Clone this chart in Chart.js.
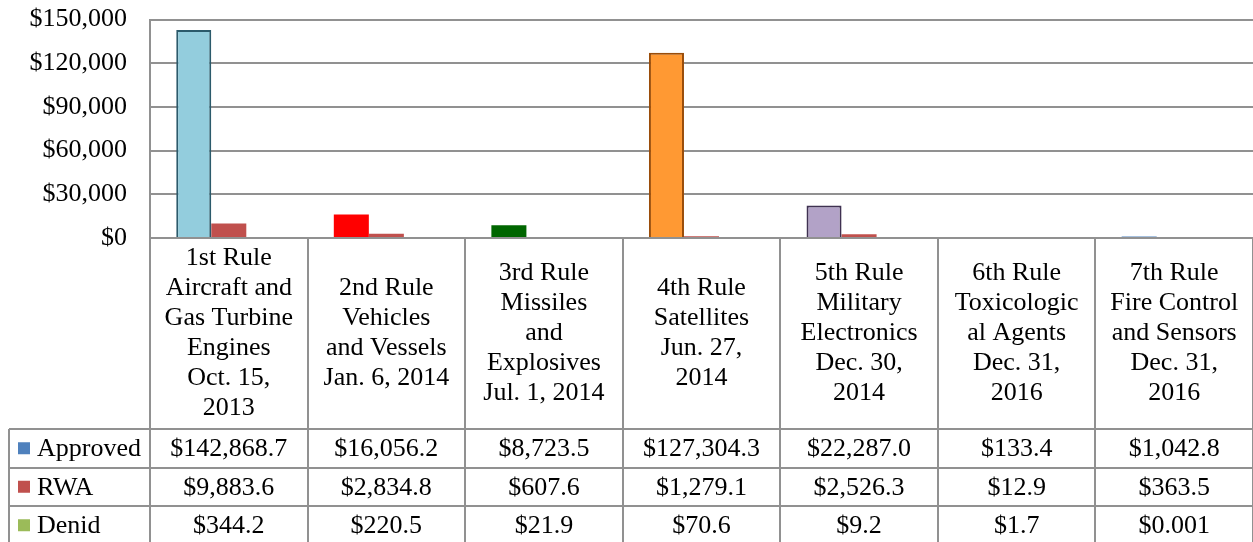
<!DOCTYPE html>
<html>
<head>
<meta charset="utf-8">
<script src="https://cdn.jsdelivr.net/npm/chart.js@4.4.1/dist/chart.umd.min.js"></script>
<style>
  body { margin: 0; background: #fff; }
  canvas { display: block; }
  .warm { font-family: 'Liberation Serif'; position: absolute; left: -999px; }
</style>
</head>
<body>
<span class="warm">$0123456789 Approved</span>
<canvas id="rulesChart" width="1253" height="542"></canvas>
<script>
// category header lines, one array per rule
const categories = [
  ["1st Rule", "Aircraft and", "Gas Turbine", "Engines", "Oct. 15,", "2013"],
  ["2nd Rule", "Vehicles", "and Vessels", "Jan. 6, 2014"],
  ["3rd Rule", "Missiles", "and", "Explosives", "Jul. 1, 2014"],
  ["4th Rule", "Satellites", "Jun. 27,", "2014"],
  ["5th Rule", "Military", "Electronics", "Dec. 30,", "2014"],
  ["6th Rule", "Toxicologic", "al Agents", "Dec. 31,", "2016"],
  ["7th Rule", "Fire Control", "and Sensors", "Dec. 31,", "2016"]
];
const approved = [142868.7, 16056.2, 8723.5, 127304.3, 22287.0, 133.4, 1042.8];
const rwa = [9883.6, 2834.8, 607.6, 1279.1, 2526.3, 12.9, 363.5];
const denid = [344.2, 220.5, 21.9, 70.6, 9.2, 1.7, 0.001];
const yTicks = [0, 30000, 60000, 90000, 120000, 150000];

const FONT = "'Liberation Serif', 'Times New Roman', serif";
const FONT_SIZE = 26;
const GRID = "#919191";

const money = v => "$" + v.toLocaleString("en-US", { minimumFractionDigits: 1, maximumFractionDigits: 3 });

const approvedFill = ["#93CDDD", "#FF0000", "#006600", "#FF9933", "#B2A2C7", "#4F81BD", "#4F81BD"];
const approvedEdge = ["#2B5A6B", "#FF0000", "#006600", "#9A4D0A", "#3F3151", "#4F81BD", "#4F81BD"];
const approvedEdgeW = [2, 0, 0, 2, 2, 0, 0];

const rows = [
  { label: "Approved", key: "#4F81BD", values: approved },
  { label: "RWA", key: "#C0504D", values: rwa },
  { label: "Denid", key: "#9BBB59", values: denid }
];

// draws the data table under the plot, column edges taken from the x scale
const dataTable = {
  id: "dataTable",
  afterDraw(chart) {
    const ctx = chart.ctx;
    const area = chart.chartArea;
    const x = chart.scales.x;
    const colW = x.getPixelForValue(1) - x.getPixelForValue(0);
    const edges = [];
    for (let i = 0; i < categories.length; i++) edges.push(x.getPixelForValue(i) - colW / 2);
    edges.push(x.getPixelForValue(categories.length - 1) + colW / 2);

    const headerTop = area.bottom;
    const headerBottom = headerTop + 191;
    const rowH = 38.5;
    const tableLeft = 9;
    const tableBottom = chart.height + 5;

    ctx.save();
    ctx.strokeStyle = GRID;
    ctx.lineWidth = 2;
    ctx.beginPath();
    ctx.moveTo(edges[0], headerTop);
    ctx.lineTo(chart.width, headerTop);
    for (let r = 0; r <= rows.length; r++) {
      const y = Math.round(headerBottom + r * rowH);
      ctx.moveTo(tableLeft, y);
      ctx.lineTo(chart.width, y);
    }
    edges.forEach(ex => {
      ctx.moveTo(Math.round(ex), headerTop);
      ctx.lineTo(Math.round(ex), tableBottom);
    });
    ctx.moveTo(tableLeft, headerBottom);
    ctx.lineTo(tableLeft, tableBottom);
    ctx.stroke();

    ctx.fillStyle = "#000";
    ctx.font = FONT_SIZE + "px " + FONT;
    ctx.textAlign = "center";
    ctx.textBaseline = "middle";
    const lineH = 30;
    const headerMid = (headerTop + headerBottom) / 2;
    categories.forEach((lines, i) => {
      const cx = x.getPixelForValue(i);
      const y0 = headerMid - (lines.length - 1) * lineH / 2;
      lines.forEach((t, j) => ctx.fillText(t, cx, y0 + j * lineH));
    });

    rows.forEach((row, r) => {
      const cy = headerBottom + r * rowH + rowH / 2 + 1;
      ctx.fillStyle = row.key;
      ctx.fillRect(18, cy - 7, 12, 12);
      ctx.fillStyle = "#000";
      ctx.textAlign = "left";
      ctx.fillText(row.label, 37, cy);
      ctx.textAlign = "center";
      row.values.forEach((v, i) => ctx.fillText(money(v), x.getPixelForValue(i), cy));
    });
    ctx.restore();
  }
};

function draw() {
  new Chart(document.getElementById("rulesChart"), {
    type: "bar",
    data: {
      labels: categories.map(c => c.join(" ")),
      datasets: [
        {
          label: "Approved",
          data: approved,
          backgroundColor: approvedFill,
          borderColor: approvedEdge,
          borderWidth: approvedEdgeW
        },
        { label: "RWA", data: rwa, backgroundColor: "#C0504D", borderWidth: 0 },
        { label: "Denid", data: denid, backgroundColor: "#9BBB59", borderWidth: 0 }
      ]
    },
    options: {
      responsive: false,
      animation: false,
      devicePixelRatio: 1,
      categoryPercentage: 0.667,
      barPercentage: 1,
      layout: { padding: { top: 0, bottom: 304, left: 0, right: 0 } },
      plugins: { legend: { display: false }, tooltip: { enabled: false } },
      scales: {
        x: { display: false },
        y: {
          min: 0,
          max: 150000,
          afterFit: s => { s.width = 150; },
          afterBuildTicks: s => { s.ticks = yTicks.map(v => ({ value: v })); },
          border: { display: true, color: GRID, width: 2 },
          // invisible tick marks push the labels left without adding top padding
          grid: { color: GRID, lineWidth: 2, drawTicks: true, tickLength: 19, tickColor: "rgba(0,0,0,0)" },
          ticks: {
            padding: 4,
            color: "#000",
            font: { family: FONT, size: FONT_SIZE },
            callback: v => "$" + v.toLocaleString("en-US")
          }
        }
      }
    },
    plugins: [dataTable]
  });
}

document.fonts.load(FONT_SIZE + "px 'Liberation Serif'").then(draw, draw);
</script>
</body>
</html>
